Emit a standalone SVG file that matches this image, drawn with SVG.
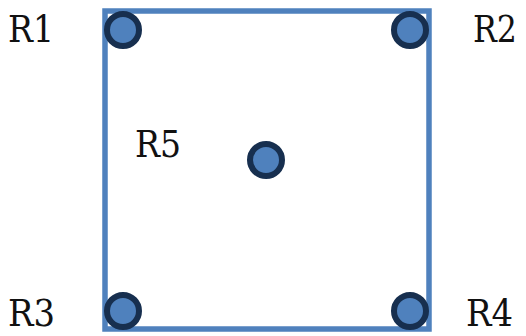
<svg xmlns="http://www.w3.org/2000/svg" width="526" height="336" viewBox="0 0 526 336">
<style>
.lbl{font-family:'DejaVu Serif',serif;font-size:37px;fill:#111}
.pt{fill:#4f81bd;stroke:#172f4f;stroke-width:6}
.edge{fill:none;stroke:#4f81bd;stroke-width:5.5}
</style>
<rect width="526" height="336" fill="#fff"/>
<g id="connectors">
<rect class="edge" x="105" y="11" width="324" height="318"/>
</g>
<g id="R1"><circle class="pt" cx="123" cy="30" r="16"/><text class="lbl" x="8" y="42" textLength="46" lengthAdjust="spacingAndGlyphs">R1</text></g>
<g id="R2"><circle class="pt" cx="410" cy="30" r="16"/><text class="lbl" x="473" y="42" textLength="44" lengthAdjust="spacingAndGlyphs">R2</text></g>
<g id="R5"><circle class="pt" cx="266" cy="160" r="16"/><text class="lbl" x="135" y="157" textLength="46" lengthAdjust="spacingAndGlyphs">R5</text></g>
<g id="R3"><circle class="pt" cx="123" cy="311" r="16"/><text class="lbl" x="8" y="326" textLength="47" lengthAdjust="spacingAndGlyphs">R3</text></g>
<g id="R4"><circle class="pt" cx="410" cy="311" r="16"/><text class="lbl" x="466" y="326" textLength="47" lengthAdjust="spacingAndGlyphs">R4</text></g>
</svg>
